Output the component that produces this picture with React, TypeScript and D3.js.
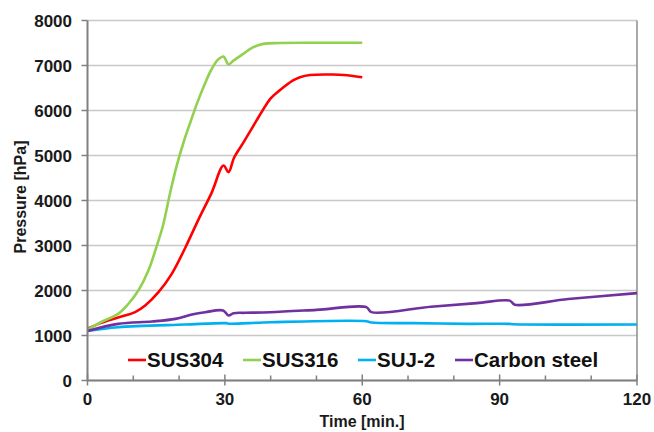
import React from "react";
import * as d3 from "d3";

const xTicks = [0, 30, 60, 90, 120];
const xMinor = [10, 20, 40, 50, 70, 80, 100, 110];
const yTicks = [0, 1000, 2000, 3000, 4000, 5000, 6000, 7000, 8000];

const sus304: [number, number][] = [
  [0, 1150], [3, 1280], [6.7, 1400], [10.4, 1520], [12.6, 1667], [15.5, 1963],
  [18.4, 2370], [21.3, 2940], [24.2, 3570], [27.1, 4170], [29.7, 4778], [30.8, 4630],
  [32, 4950], [34, 5280], [36, 5620], [38, 5960], [40, 6270], [42, 6450], [44.9, 6667],
  [46.4, 6740], [48.6, 6790], [53.6, 6800], [56, 6790], [60, 6740],
];
const sus316: [number, number][] = [
  [0, 1130], [3, 1300], [6.7, 1480], [8.9, 1700], [11.1, 2000], [13.3, 2444],
  [15, 2950], [16.5, 3450], [18, 4150], [19.5, 4780], [21, 5300], [22.5, 5750],
  [24, 6180], [25.5, 6560], [27, 6900], [28.5, 7130], [29.7, 7200], [30.8, 7022],
  [31.9, 7111], [34, 7259], [36.2, 7407], [38.4, 7481], [42, 7500], [50, 7505], [60, 7505],
];
const suj2: [number, number][] = [
  [0, 1100], [6.7, 1185], [21.3, 1244], [30.3, 1274], [31, 1262], [40, 1296],
  [60.9, 1318], [62, 1289], [71, 1274], [83, 1259], [92, 1259], [93, 1250], [120, 1244],
];
const carbon: [number, number][] = [
  [0, 1100], [6.7, 1259], [14.1, 1311], [19.2, 1370], [22.8, 1467], [25.7, 1518],
  [29.6, 1556], [30.8, 1444], [31.9, 1496], [34.4, 1504], [39.9, 1518], [50, 1570],
  [60.9, 1630], [62, 1520], [75, 1640], [85, 1720], [92.2, 1775], [93.3, 1685],
  [105, 1810], [120, 1941],
];

const seriesNames = ["SUS304", "SUS316", "SUJ-2", "Carbon steel"];
const seriesData = [sus304, sus316, suj2, carbon];
const seriesColors = ["#ff0000", "#92d050", "#00b0f0", "#7030a0"];
const legendX = [128, 243, 358, 455];

export default function App() {
  const x = d3.scaleLinear().domain([0, 120]).range([87.5, 637]);
  const y = d3.scaleLinear().domain([0, 8000]).range([380.5, 20.5]);
  const line = d3
    .line<[number, number]>()
    .x((d) => x(d[0]))
    .y((d) => y(d[1]))
    .curve(d3.curveCatmullRom.alpha(0.5));
  const font = "'Liberation Sans', Arial, sans-serif";
  return (
    <svg
      width={654}
      height={432}
      style={{ position: "absolute", left: 0, top: 0, background: "#fff" }}
      fontFamily={font}
    >
      {yTicks.map((t) => (
        <line key={"g" + t} x1={x(0)} x2={x(120)} y1={y(t)} y2={y(t)} stroke="#c8c8c8" strokeWidth={1.5} />
      ))}
      <line x1={x(120)} x2={x(120)} y1={y(8000)} y2={y(0)} stroke="#8c8c8c" strokeWidth={1.5} />
      {seriesData.map((s, i) => (
        <path key={i} d={line(s) || ""} fill="none" stroke={seriesColors[i]} strokeWidth={2.6} strokeLinejoin="round" />
      ))}
      <line x1={x(0)} x2={x(0)} y1={y(8000)} y2={y(0)} stroke="#808080" strokeWidth={2} />
      <line x1={x(0)} x2={x(120)} y1={y(0)} y2={y(0)} stroke="#808080" strokeWidth={2} />
      {yTicks.map((t) => (
        <g key={"y" + t}>
          <line x1={x(0) - 6} x2={x(0)} y1={y(t)} y2={y(t)} stroke="#808080" strokeWidth={1.5} />
          <text x={72} y={y(t) + 6} textAnchor="end" fontSize={17} fontWeight="bold" fill="#1a1a1a">
            {t}
          </text>
        </g>
      ))}
      {xTicks.map((t) => (
        <g key={"x" + t}>
          <line x1={x(t)} x2={x(t)} y1={y(0) - 6} y2={y(0) + 5} stroke="#808080" strokeWidth={1.5} />
          <text x={x(t)} y={405} textAnchor="middle" fontSize={17} fontWeight="bold" fill="#1a1a1a">
            {t}
          </text>
        </g>
      ))}
      {xMinor.map((t) => (
        <line key={"m" + t} x1={x(t)} x2={x(t)} y1={y(0) - 5} y2={y(0)} stroke="#808080" strokeWidth={1.5} />
      ))}
      <text x={362} y={427} textAnchor="middle" fontSize={16} fontWeight="bold" fill="#1a1a1a">
        Time [min.]
      </text>
      <text
        transform="translate(26,197) rotate(-90)"
        textAnchor="middle"
        fontSize={16}
        fontWeight="bold"
        fill="#1a1a1a"
      >
        Pressure [hPa]
      </text>
      {seriesNames.map((n, i) => (
        <g key={"l" + i}>
          <line x1={legendX[i]} x2={legendX[i] + 18} y1={360} y2={360} stroke={seriesColors[i]} strokeWidth={2.6} />
          <text x={legendX[i] + 19} y={367} fontSize={20.5} fontWeight="bold" fill="#111">
            {n}
          </text>
        </g>
      ))}
    </svg>
  );
}
